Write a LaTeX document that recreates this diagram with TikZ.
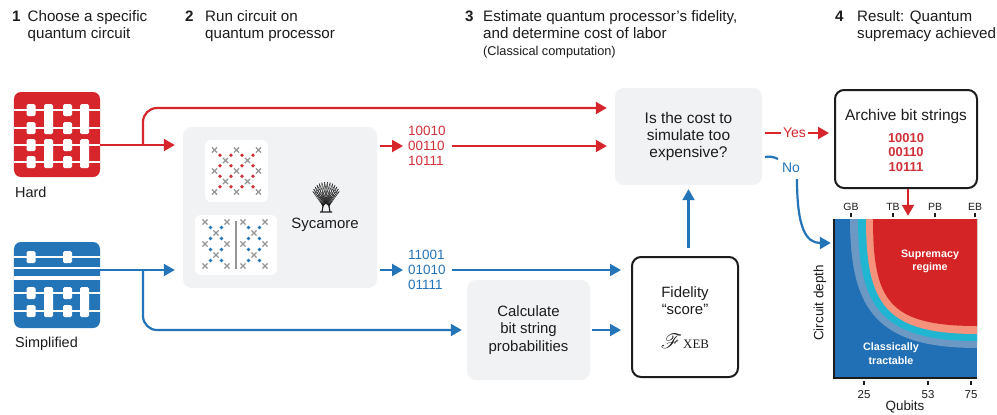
\documentclass[tikz,border=0pt]{standalone}
\usepackage{fontspec}
\usepackage{mathrsfs}
\setmainfont{Liberation Sans}
\newfontfamily\xebserif{Liberation Serif}
\usetikzlibrary{arrows.meta}

\definecolor{ink}{RGB}{28,28,28}
\definecolor{hardred}{RGB}{214,38,44}
\definecolor{bitred}{RGB}{208,48,56}
\definecolor{simpblue}{RGB}{36,116,184}
\definecolor{panelgray}{RGB}{241,242,244}
\definecolor{xgray}{RGB}{150,150,150}
\definecolor{tractblue}{RGB}{33,111,180}
\definecolor{bandsteel}{RGB}{108,152,196}
\definecolor{bandcyan}{RGB}{32,182,210}
\definecolor{bandsalmon}{RGB}{244,146,124}
\definecolor{regimered}{RGB}{212,36,38}

\tikzset{
  heading/.style={anchor=base west, inner sep=0pt, text=ink, font=\fontsize{15.2}{17}\selectfont},
  stepnum/.style={heading, font=\fontsize{15.2}{17}\selectfont\bfseries},
  subhead/.style={anchor=base west, inner sep=0pt, text=ink, font=\fontsize{12.8}{14}\selectfont},
  iconlabel/.style={anchor=base west, inner sep=0pt, text=ink, font=\fontsize{14.5}{17}\selectfont},
  graybox/.style={fill=panelgray, rounded corners=9bp, inner sep=0pt},
  whitebox/.style={fill=white, draw=ink, line width=2bp, rounded corners=9bp, inner sep=0pt},
  chipcard/.style={fill=white, rounded corners=6bp, inner sep=0pt},
  boxtext/.style={text=ink, align=center, font=\fontsize{15}{17.5}\selectfont},
  bitcol/.style={anchor=west, inner sep=0pt, align=left, font=\fontsize{13.5}{15}\selectfont},
  redflow/.style={draw=hardred, line width=2.2bp},
  blueflow/.style={draw=simpblue, line width=2.2bp},
  flowtip/.style={-{Triangle[length=11bp,width=12bp]}},
  gate/.style={fill=white, rounded corners=1.5bp},
  wire/.style={draw=white, line width=1.5bp},
  axislbl/.style={text=ink, inner sep=0pt, font=\fontsize{13.5}{15}\selectfont},
  ticklbl/.style={text=ink, inner sep=0pt, font=\fontsize{10.5}{12}\selectfont},
  regionlbl/.style={text=white, inner sep=0pt, align=center, font=\fontsize{10.8}{13.5}\selectfont\bfseries},
  tickmark/.style={draw=ink, line width=1.6bp},
  qx/.pic={\draw[xgray, line width=1.3bp] (-2.6,-2.6) -- (2.6,2.6) (-2.6,2.6) -- (2.6,-2.6);},
}

\begin{document}
\begin{tikzpicture}[x=1bp, y=-1bp]
\useasboundingbox (0,0) rectangle (997,414);
\fill[white] (0,0) rectangle (997,414);

% ---------- step headings ----------
\node[stepnum] (n1) at (12,21) {1};
\node[heading] (h1a) at (27.5,21) {Choose a specific};
\node[heading] (h1b) at (27.5,38) {quantum circuit};
\node[stepnum] (n2) at (185,21) {2};
\node[heading] (h2a) at (205,21) {Run circuit on};
\node[heading] (h2b) at (205,38) {quantum processor};
\node[stepnum] (n3) at (465,21) {3};
\node[heading] (h3a) at (483,21) {Estimate quantum processor’s fidelity,};
\node[heading] (h3b) at (483,38) {and determine cost of labor};
\node[subhead] (h3c) at (483,55) {(Classical computation)};
\node[stepnum] (n4) at (835,21) {4};
\node[heading] (h4a) at (857,21) {Result: Quantum};
\node[heading] (h4b) at (857,38) {supremacy achieved};

% ---------- hard circuit icon ----------
\node[fill=hardred, rounded corners=7bp, minimum width=86bp, minimum height=85bp, inner sep=0pt] (hard) at (57,134.5) {};
\foreach \y in {110,128,145,162} \draw[wire] (14,\y) -- (100,\y);
\foreach \y in {110,128,145,162} {
  \fill[gate] (26.5,{\y-6}) rectangle (35.5,{\y+6});
  \fill[gate] (63,{\y-6}) rectangle (72,{\y+6});
}
\foreach \a/\b in {110/128,145/162} {
  \fill[gate] (44,{\a-6}) rectangle (53,{\b+6});
  \fill[gate] (80,{\a-6}) rectangle (89,{\b+6});
}
\node[iconlabel] (hardlbl) at (15,197) {Hard};

% ---------- simplified circuit icon ----------
\node[fill=simpblue, rounded corners=7bp, minimum width=86bp, minimum height=86bp, inner sep=0pt] (simp) at (57,285) {};
\fill[white] (14,276) rectangle (100,280);
\foreach \y in {257,268,293,311} \draw[wire] (14,\y) -- (100,\y);
\foreach \x in {26.5,63} \fill[gate] (\x,251) rectangle ({\x+9},263);
\foreach \y in {293,311} {
  \fill[gate] (26.5,{\y-6}) rectangle (35.5,{\y+6});
  \fill[gate] (63,{\y-6}) rectangle (72,{\y+6});
}
\fill[gate] (44,287) rectangle (53,317);
\fill[gate] (80,287) rectangle (89,317);
\node[iconlabel] (simplbl) at (15,347) {Simplified};

% ---------- processor panel ----------
\node[graybox, minimum width=194bp, minimum height=161bp] (syc) at (280,207.5) {};
\node[chipcard, minimum width=63bp, minimum height=62bp] (chipA) at (236.5,171) {};
\node[chipcard, minimum width=82bp, minimum height=60bp] (chipB) at (236,245) {};

% full lattice, red couplers
\foreach \c in {0,...,4} \foreach \r in {0,...,4} {
  \pgfmathtruncatemacro{\parity}{mod(\c+\r,2)}
  \ifnum\parity=0 \pic at ({214.5+11*\c},{150+10.5*\r}) {qx}; \fi
}
\foreach \c in {0,...,3} \foreach \r in {0,...,3}
  \fill[bitred] ({220+11*\c},{155.25+10.5*\r}) circle (1.8bp);

% split lattice, blue couplers
\foreach \ox in {205,243} {
  \foreach \c in {0,...,2} \foreach \r in {0,...,4} {
    \pgfmathtruncatemacro{\parity}{mod(\c+\r,2)}
    \ifnum\parity=0 \pic at ({\ox+11*\c},{222+11*\r}) {qx}; \fi
  }
  \foreach \c in {0,1} \foreach \r in {0,...,3}
    \fill[simpblue] ({\ox+5.5+11*\c},{227.5+11*\r}) circle (1.8bp);
}
\draw[xgray, line width=1.2bp] (236,221) -- (236,269);

% Sycamore tree mark
\begin{scope}[shift={(326,196)}]
  \foreach \t in {12,24,...,168} {
    \draw[ink, line width=0.45bp] (-3,10) -- ({13.5*cos(\t)},{-12*sin(\t)-2});
    \draw[ink, line width=0.45bp] (3,10) -- ({13.5*cos(\t)},{-12*sin(\t)-2});
  }
  \draw[ink, line width=1.1bp] (-3,10) -- (-4,16) (3,10) -- (4,16) (-6,16) -- (6,16);
\end{scope}
\node[inner sep=0pt, text=ink, font=\fontsize{15}{17}\selectfont] (sycname) at (325,225) {Sycamore};

% ---------- bit strings ----------
\node[bitcol, text=bitred] (rbits) at (408,146) {10010\\00110\\10111};
\node[bitcol, text=simpblue] (bbits) at (408,270) {11001\\01010\\01111};

% ---------- classical computation boxes ----------
\node[graybox, boxtext, font=\fontsize{15.5}{17}\selectfont, minimum width=147bp, minimum height=97bp] (decide) at (688.5,136.5) {Is the cost to\\simulate too\\expensive?};
\node[graybox, boxtext, minimum width=123bp, minimum height=100bp] (calc) at (528.5,330) {Calculate\\bit string\\probabilities};
\node[whitebox, minimum width=106bp, minimum height=120bp] (fid) at (685,317) {};
\node[boxtext, anchor=north, inner sep=0pt] (fidtext) at (685,286) {Fidelity\\“score”};
\node[anchor=base, inner sep=0pt, text=ink] (fidsym) at (685,348)
  {\fontsize{22}{22}\selectfont$\mathscr{F}$\hspace{1bp}{\xebserif\fontsize{13}{13}\selectfont XEB}};

% ---------- result ----------
\node[whitebox, minimum width=142bp, minimum height=98bp] (archive) at (906,139) {};
\node[anchor=base, inner sep=0pt, text=ink, font=\fontsize{15.5}{17}\selectfont] (archtitle) at (906,120) {Archive bit strings};
\node[anchor=north, inner sep=0pt, align=center, text=bitred, font=\fontsize{13}{14.5}\selectfont\bfseries] (archbits) at (906,133) {10010\\00110\\10111};

% ---------- cost chart ----------
\node[inner sep=0pt, minimum width=143bp, minimum height=159bp] (plot) at (905.5,298.5) {};
\fill[tractblue] (834,219) rectangle (977,378);
\fill[bandsteel] (850,219) .. controls (850,310) and (877,348) .. (977,348) -- (977,219) -- cycle;
\fill[bandcyan] (858,219) .. controls (858,307) and (881,341) .. (977,341) -- (977,219) -- cycle;
\fill[bandsalmon] (866,219) .. controls (866,304) and (885,334) .. (977,334) -- (977,219) -- cycle;
\fill[regimered] (873,219) .. controls (873,300) and (888,326) .. (977,326) -- (977,219) -- cycle;
\draw[ink, line width=2bp] (834,219) -- (834,378) -- (977,378);
\node[regionlbl] (suplbl) at (930,261.5) {Supremacy\\regime};
\node[regionlbl] (tractlbl) at (891,353.5) {Classically\\tractable};

\foreach \x/\t in {851/GB,893/TB,935/PB,975/EB} {
  \node[ticklbl] at (\x,207) {\t};
  \draw[tickmark] (\x,213) -- (\x,217);
}
\foreach \x/\t in {864/25,928/53,971/75} {
  \draw[tickmark] (\x,381) -- (\x,385);
  \node[ticklbl, font=\fontsize{11.5}{13}\selectfont] at (\x,395) {\t};
}
\node[axislbl] (xlbl) at (905,407) {Qubits};
\node[axislbl, rotate=90] (ylbl) at (820,303) {Circuit depth};

% ---------- red flow ----------
\draw[redflow, flowtip, shorten >=8bp] (hard.east |- 0,145) -- (syc.west |- 0,145);
\draw[redflow, flowtip, rounded corners=14bp, shorten >=8bp] (143,145) |- (decide.west |- 0,108);
\draw[redflow, flowtip, shorten <=3bp, shorten >=5bp] (syc.east |- rbits.west) -- (rbits.west);
\draw[redflow, flowtip, shorten <=6bp, shorten >=8bp] (rbits.east) -- (decide.west |- rbits.east);
\draw[redflow, flowtip, shorten <=3bp, shorten >=5bp] (decide.east |- 0,133) --
  node[pos=0.45, fill=white, inner sep=2.5bp, text=hardred, font=\fontsize{14}{16}\selectfont] (yes) {Yes}
  (archive.west |- 0,133);
\draw[redflow, flowtip, shorten >=3bp] (archive.south -| 908,0) -- (plot.north -| 908,0);

% ---------- blue flow ----------
\draw[blueflow, flowtip, shorten >=8bp] (simp.east |- 0,270) -- (syc.west |- 0,270);
\draw[blueflow, flowtip, rounded corners=14bp, shorten >=5bp] (143,270) |- (calc.west);
\draw[blueflow, flowtip, shorten <=3bp, shorten >=5bp] (syc.east |- bbits.west) -- (bbits.west);
\draw[blueflow, flowtip, shorten <=6bp, shorten >=10bp] (bbits.east) -- (fid.west |- bbits.east);
\draw[blueflow, flowtip, shorten <=2bp, shorten >=10bp] (calc.east) -- (fid.west |- calc.east);
\draw[blueflow, flowtip, shorten <=8bp, shorten >=4bp] (decide.south |- fid.north) -- (decide.south);
\coordinate (nostart) at (765,157);
\coordinate (nobend) at (778,159);
\coordinate (nodrop) at (797,179);
\draw[blueflow] (nostart) .. controls (770,156) and (774,157) .. (nobend);
\node[inner sep=0pt, text=simpblue, font=\fontsize{14}{16}\selectfont] (no) at (791,168) {No};
\draw[blueflow, flowtip, shorten >=3bp] (nodrop) .. controls (797,228) and (806,243) .. (plot.west |- 0,243);

\end{tikzpicture}
\end{document}
